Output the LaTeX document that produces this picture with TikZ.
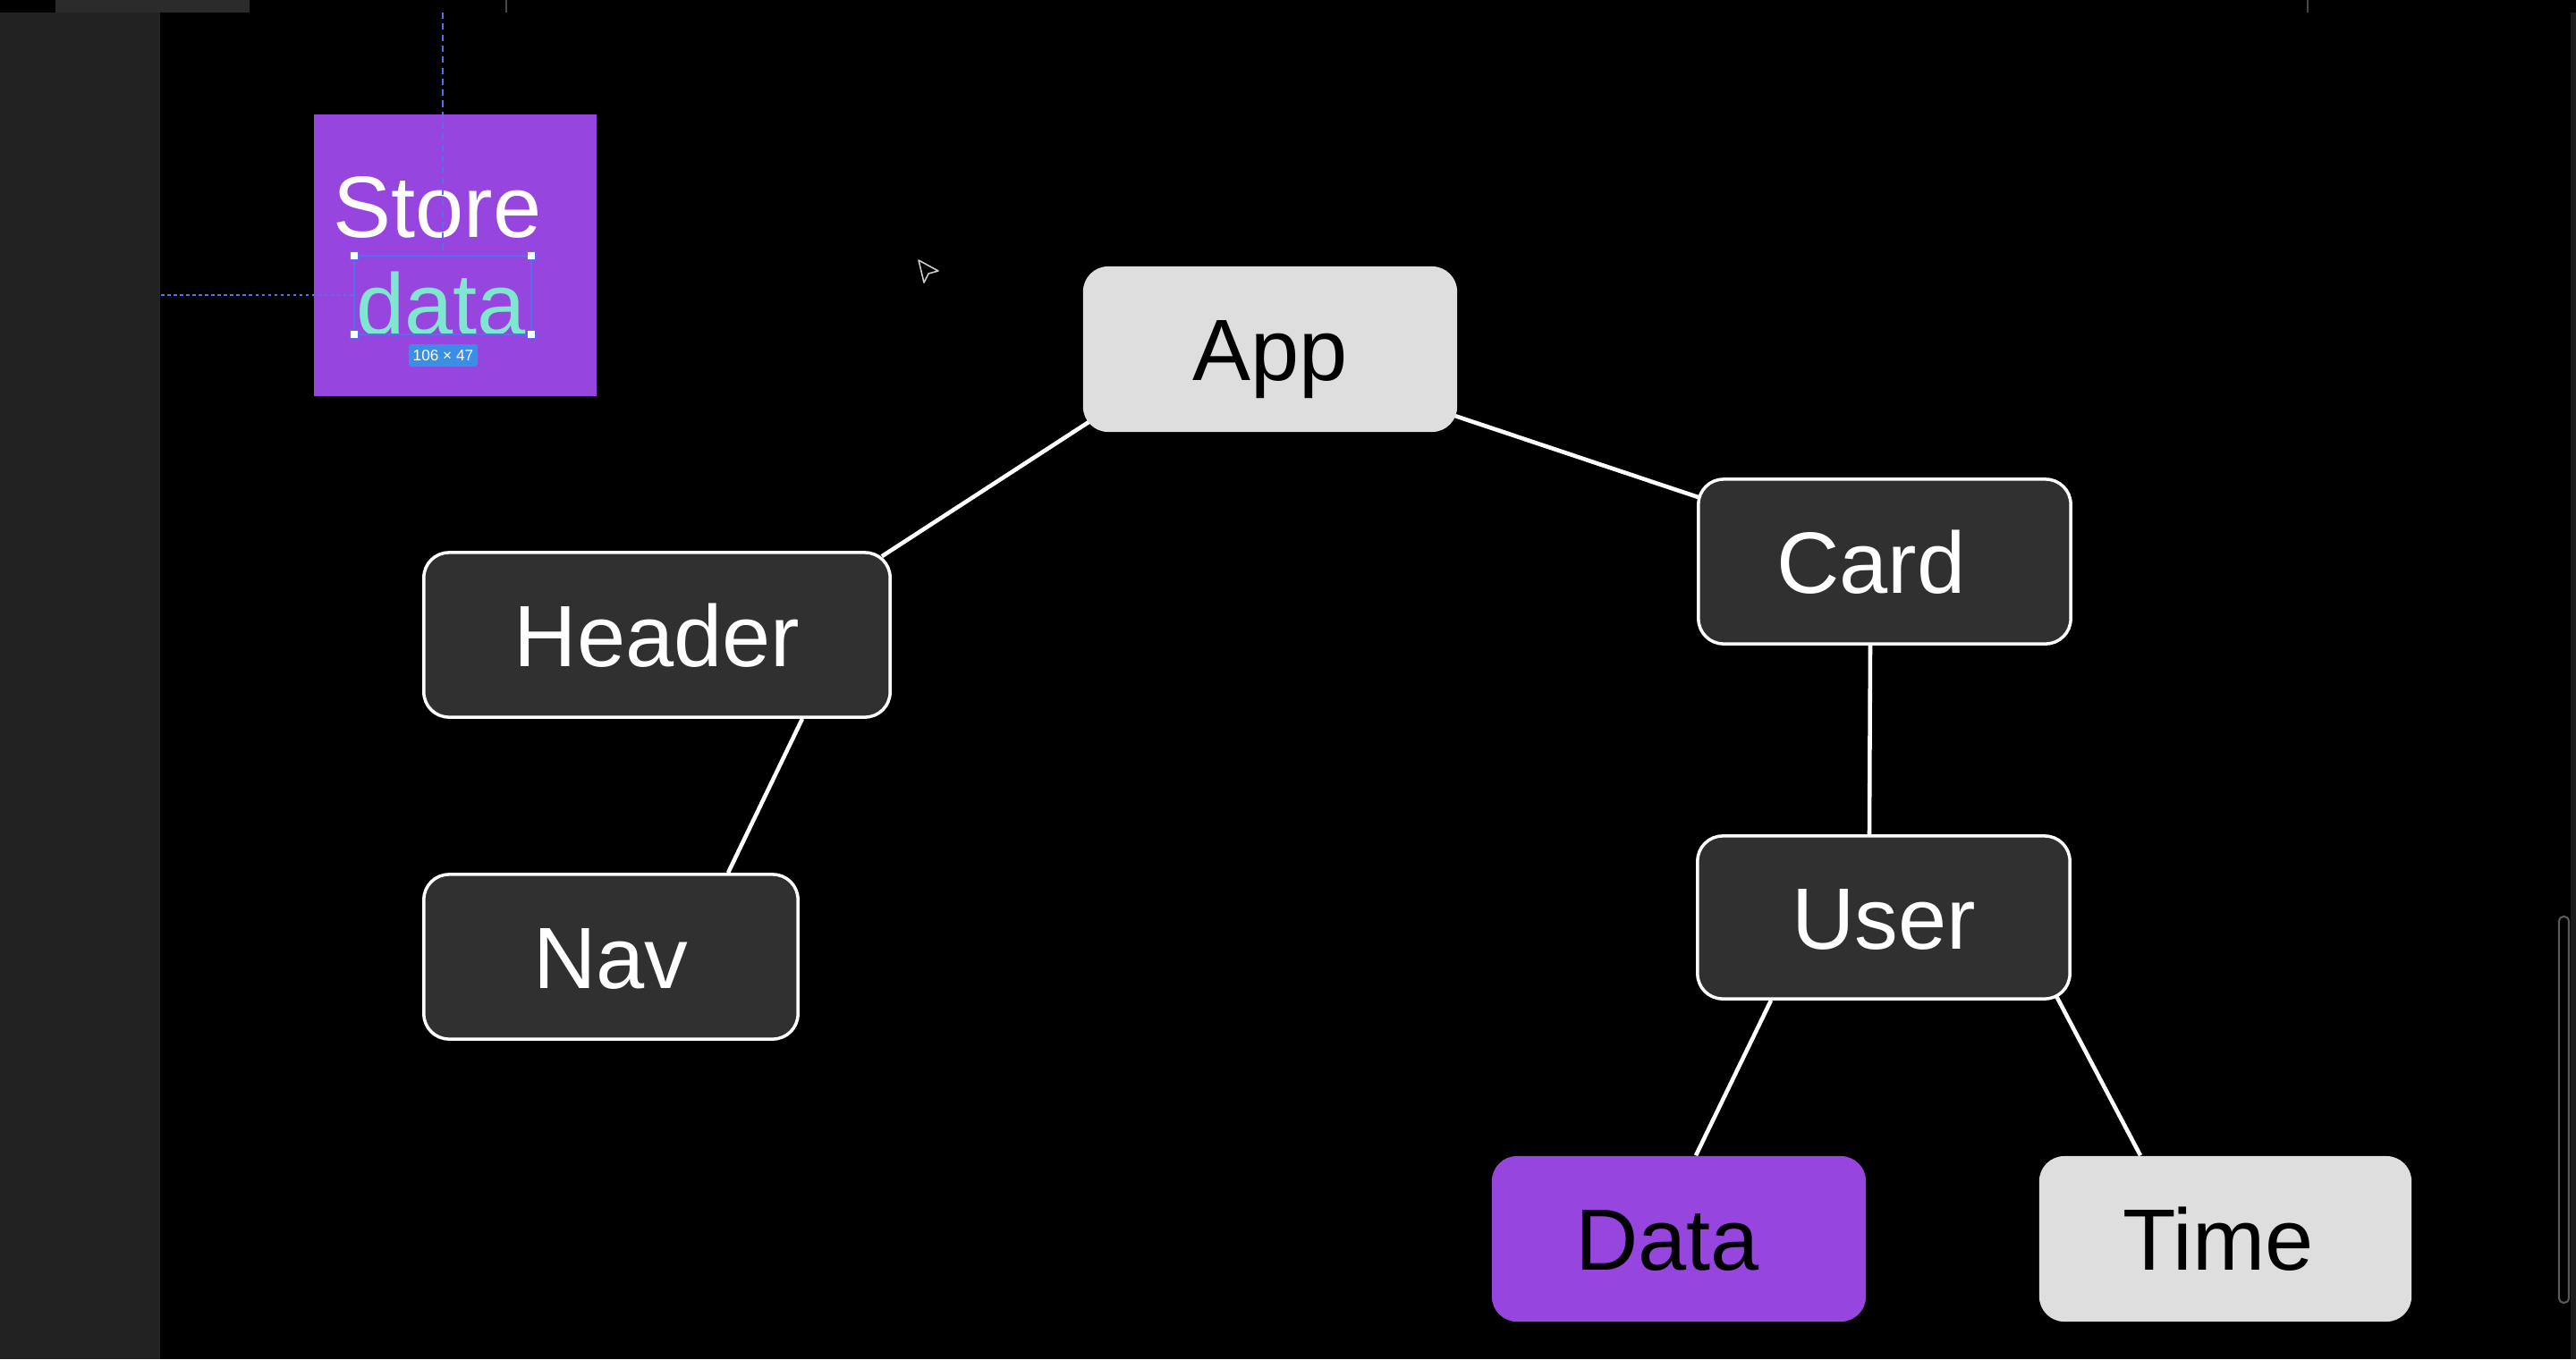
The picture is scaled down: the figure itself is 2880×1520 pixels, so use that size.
\documentclass[tikz,border=0pt]{standalone}
\usepackage{fontspec}
\setmainfont{Liberation Sans}
\usetikzlibrary{calc}
\pgfdeclarelayer{bg}
\pgfdeclarelayer{wires}
\pgfsetlayers{bg,wires,main}
\definecolor{purp}{HTML}{9645DF}
\definecolor{darkbox}{HTML}{303030}
\definecolor{lightbox}{HTML}{DEDEDE}
\definecolor{side}{HTML}{222222}
\definecolor{tealtxt}{HTML}{7FE6CF}
\definecolor{selblue}{HTML}{5B6CF0}
\definecolor{badgeblue}{HTML}{3B8DE6}
\tikzset{
  box/.style={rounded corners=0.28cm, inner sep=0pt, text height=0.7cm, text depth=0pt,
    font=\fontsize{27.7}{33}\selectfont},
  darknode/.style={box, fill=darkbox, draw=white, line width=1pt, text=white},
  lightnode/.style={box, fill=lightbox, text=black},
  purpnode/.style={box, fill=purp, text=black},
  wire/.style={draw=white, line width=1.3pt},
  guide/.style={draw=selblue, line width=0.6pt},
  handle/.style={fill=white, draw=selblue, line width=0.4pt},
}
\begin{document}
\begin{tikzpicture}[x=0.01cm,y=-0.01cm]
\useasboundingbox (0,0) rectangle (2880,1520);
\begin{pgfonlayer}{bg}
  \fill[black] (0,0) rectangle (2880,1520);
  \fill[side] (0,14) rectangle (179,1520);
  \fill[black!83] (62,0) rectangle (279,14);
  \draw[black!72, line width=0.5pt] (566,0) -- (566,14);
  \draw[black!72, line width=0.5pt] (2580,0) -- (2580,14);
  \fill[black!89] (2874,14) rectangle (2880,1520);
  \draw[black!65, line width=0.6pt, rounded corners=0.05cm] (2861,1025) rectangle (2872,1457);
\end{pgfonlayer}

% store box
\node[fill=purp, minimum width=3.16cm, minimum height=3.15cm, inner sep=0pt] (store) at (509,285.5) {};
\node[text=white, inner sep=0pt, text height=0.7cm, text depth=0pt, font=\fontsize{27.7}{33}\selectfont] (storelbl) at (489,230) {Store};
\node[text=tealtxt, inner sep=0pt, text height=0.66cm, text depth=0pt, font=\fontsize{27.7}{33}\selectfont] (datalbl) at (493,341.5) {data};
\draw[guide, dash pattern=on 2pt off 1.5pt] (495,14) -- (495,286);
\draw[guide, dash pattern=on 1pt off 1pt] (180,330) -- (396,330);
\draw[guide] (396,286) rectangle (594,374);
\foreach \hx/\hy [count=\i] in {396/286,594/286,396/374,594/374}
  \draw[handle] (\hx-4.5,\hy-4.5) rectangle (\hx+4.5,\hy+4.5);
\node[fill=badgeblue, rounded corners=0.03cm, minimum width=0.77cm, minimum height=0.25cm, inner sep=0pt,
  text=white, font=\fontsize{4.9}{5.5}\selectfont] (badge) at (495.5,397.5) {106 × 47};

% cursor
\draw[black!20, line width=0.45pt, line join=round] (1027,291) -- (1049,303) -- (1038,306) -- (1033,316) -- cycle;

% tree nodes
\node[lightnode, minimum width=4.18cm, minimum height=1.85cm] (app) at (1420,390.5) {App};
\node[darknode, minimum width=4.16cm, minimum height=1.84cm] (card) at (2107,628) {\hspace*{-0.3cm}Card};
\node[darknode, minimum width=5.21cm, minimum height=1.84cm] (header) at (734.5,710) {Header};
\node[darknode, minimum width=4.18cm, minimum height=1.84cm] (nav) at (683,1070) {Nav};
\node[darknode, minimum width=4.16cm, minimum height=1.82cm] (user) at (2106,1026) {User};
\node[purpnode, minimum width=4.18cm, minimum height=1.85cm] (data) at (1877,1385.5) {\hspace*{-0.26cm}Data};
\node[lightnode, minimum width=4.16cm, minimum height=1.85cm] (time) at (2488,1385.5) {\hspace*{-0.16cm}Time};

\begin{pgfonlayer}{wires}
  \draw[wire] ($(app.south west)+(9,-13)$) -- ($(header.north east)+(-11,6)$);
  \draw[wire] ($(app.south east)+(-7,-20)$) -- ($(card.north west)+(2,22)$);
  \draw[wire] ($(header.south)+(162.5,0)$) -- ($(nav.north)+(131,0)$);
  \draw[wire] ($(card.south)+(-16,0)$) -- ($(user.north)+(-16,0)$);
  \draw[wire] ($(user.south)+(-126,0)$) -- ($(data.north)+(19,0)$);
  \draw[wire] ($(user.south east)+(-18,-7)$) -- ($(time.north)+(-95,0)$);
\end{pgfonlayer}
\end{tikzpicture}
\end{document}
